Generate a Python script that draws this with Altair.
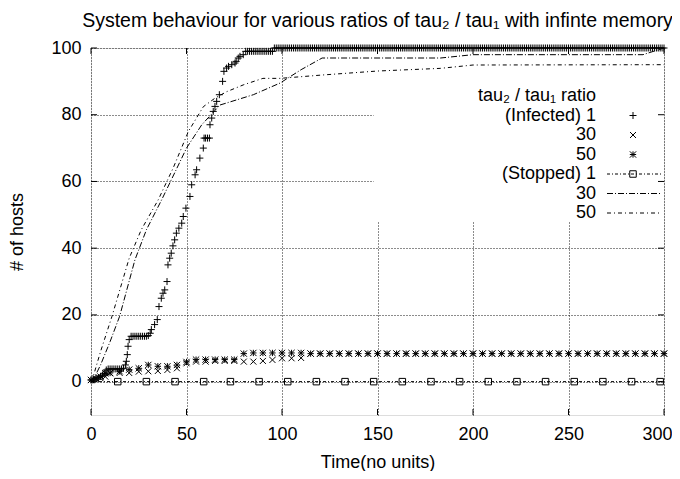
import altair as alt
import pandas as pd

FONT = "Liberation Sans"
FS = 18

# ---------------- data ----------------
# Infected, tau2/tau1 = 1  ('+')
inf1_x = [0, 1, 2, 3, 4, 5, 6, 7, 8, 9, 10, 11, 12, 13, 14, 15, 16, 17, 18, 18.5,
          19, 19.4, 20, 21, 22, 23, 24, 25, 26, 27, 28, 29, 30, 31, 31.6, 33.3, 34.7, 35.6,
          36.8, 37.7, 38.6, 39.8, 40.3, 41.2, 42, 42.9, 43.8, 44.7, 46, 47.5, 48.3, 49.7,
          51.8, 52.7, 54.5, 55.3, 57, 58.8, 59.2, 60, 61, 62, 62.3, 63.2, 64, 64.9, 65.8,
          67.2, 68.9, 69.6, 71, 72, 73.7, 75.4, 76, 77.1, 78, 79.7, 81, 82, 83, 84, 85, 86,
          87, 88, 89, 90, 91, 92, 93, 94, 95]
inf1_y = [0.5, 0.5, 0.6, 1, 1.2, 1.6, 2, 2.5, 3.5, 3.8, 3.8, 3.8, 3.8, 3.8, 3.8, 3.8, 3.8, 4, 5, 6.1,
          8.1, 10.6, 12.6, 13.6, 13.6, 13.6, 13.6, 13.6, 13.6, 13.6, 13.6, 13.6, 13.8, 14.5, 15.6, 17.1, 18.6, 22.5,
          25, 26.5, 27.5, 30, 35, 37, 38.5, 40.7, 42.5, 44.5, 46, 47.5, 49.5, 52,
          55.5, 59, 62, 63.5, 67, 70, 73, 73, 73, 73, 77, 79, 81, 82.5, 84,
          86, 90, 93, 94, 94.5, 95, 95.5, 96, 97, 97.5, 98, 99, 99, 99, 99, 99, 99,
          99, 99, 99, 99, 99, 99, 99, 99, 99]
inf1_top_x = list(range(96, 301))   # sampling times of the saturated part
inf1_top_value = 100

# Infected, tau2/tau1 = 30 ('x') and 50 ('*'), sampled every 5 time units
inf_t = [0, 2.5, 5, 7.5] + list(range(10, 301, 5))
inf30_y = ([0.5, 0.8, 1, 1.5] +
           [2.5, 2.6, 2.6, 3, 3.1, 3.2, 3.5, 4, 5.5, 6, 6, 6.2, 6.2, 6.2, 6, 6, 6.2, 6.5, 7, 7, 7.1] +
           [8.4] * 38)
inf50_y = ([0.5, 1, 1.5, 2.5] +
           [2.6, 3.1, 3.6, 4, 5, 4.6, 4.6, 5, 5.9, 6.6, 6.6, 6.6, 6.6, 6.6, 8.4, 8.6, 8.6, 8.6, 8.6, 8.6, 8.6] +
           [8.4] * 38)

# Stopped, tau2/tau1 = 1 (line with boxes, stays at 0)
stop1_line_x = [0, 300]
stop1_line_y = [0, 0]
stop1_box_x = [14, 29, 44, 59, 73, 88, 103, 118, 133, 148, 163, 178, 193, 208, 223, 238, 253, 268, 283, 298]
stop1_box_y = [0] * len(stop1_box_x)

# Stopped, tau2/tau1 = 30
stop30_x = [0, 2, 5, 10, 15, 23, 29, 37, 45, 50, 58, 67.5, 85, 99, 110, 121, 183, 200, 289, 300]
stop30_y = [0, 1.5, 5, 12, 19.6, 36.5, 45.5, 54.5, 64, 70, 77, 82.9, 86, 89.5, 93.5, 97, 97, 98, 98, 100]

# Stopped, tau2/tau1 = 50
stop50_x = [0, 1.2, 5, 11, 20, 26.3, 35.2, 43, 51, 58.8, 65, 71, 80, 90, 99, 121, 150, 183, 200, 300]
stop50_y = [0, 1.6, 9, 19.6, 37, 45.5, 54.5, 64, 75, 82.4, 85, 86.9, 89, 90.9, 90.9, 91.9, 93.1, 93.9, 94.9, 95]

x_ticks = [0, 50, 100, 150, 200, 250, 300]
y_ticks = [0, 20, 40, 60, 80, 100]

legend_title = "tau\u2082 / tau\u2081 ratio"
legend_labels = ["(Infected) 1", "30", "50", "(Stopped) 1", "30", "50"]

title_text = "System behaviour for various ratios of tau\u2082 / tau\u2081 with infinte memory"

# ---------------- layout ----------------
W, H = 573, 367
PLUS = "M-1,0L1,0M0,-1L0,1"
CROSS = "M-1,-1L1,1M1,-1L-1,1"
STAR = "M-1,0L1,0M0,-1L0,1M-1,-1L1,1M1,-1L-1,1"

xs = alt.Scale(domain=[0, 300], nice=False, zero=False)
ys = alt.Scale(domain=[-10, 100], nice=False, zero=False)

xaxis = alt.Axis(values=x_ticks, ticks=False, domain=False, grid=True, gridDash=[1, 2],
                 gridColor="#000000", gridOpacity=0.9, labelFont=FONT, labelFontSize=FS,
                 labelColor="#000000", labelPadding=10, labelFlush=False,
                 labelAlign=alt.ExprRef("datum.value == 300 ? 'right' : 'center'"),
                 labelOffset=alt.ExprRef("datum.value == 300 ? 8 : 0"),
                 title="Time(no units)", titleFont=FONT, titleFontSize=FS,
                 titleFontWeight="normal", titleColor="#000000", titlePadding=10)
yaxis = alt.Axis(values=y_ticks, ticks=False, domain=False, grid=True, gridDash=[1, 2],
                 gridColor="#000000", gridOpacity=0.9, labelFont=FONT, labelFontSize=FS,
                 labelColor="#000000", labelPadding=10, labelFlush=False,
                 title="# of hosts", titleFont=FONT, titleFontSize=FS,
                 titleFontWeight="normal", titleColor="#000000", titlePadding=24)

X = alt.X("x:Q", scale=xs, axis=xaxis)
Y = alt.Y("y:Q", scale=ys, axis=yaxis)

# key area (gnuplot masks the grid behind the key)
key_df = pd.DataFrame({"x": [148], "x2": [300], "y": [48], "y2": [100]})
key_mask = alt.Chart(key_df).mark_rect(fill="white", stroke=None).encode(
    x=X, x2="x2:Q", y=Y, y2="y2:Q")

df_inf1 = pd.DataFrame({"x": inf1_x + inf1_top_x,
                        "y": inf1_y + [inf1_top_value] * len(inf1_top_x)})
df_inf30 = pd.DataFrame({"x": inf_t, "y": inf30_y})
df_inf50 = pd.DataFrame({"x": inf_t, "y": inf50_y})
df_s1l = pd.DataFrame({"x": stop1_line_x, "y": stop1_line_y})
df_s1b = pd.DataFrame({"x": stop1_box_x, "y": stop1_box_y})
df_s30 = pd.DataFrame({"x": stop30_x, "y": stop30_y})
df_s50 = pd.DataFrame({"x": stop50_x, "y": stop50_y})

pt = dict(filled=False, stroke="black", strokeWidth=1, opacity=1)
inf1 = alt.Chart(df_inf1).mark_point(shape=PLUS, size=49, **pt).encode(x=X, y=Y)
inf30 = alt.Chart(df_inf30).mark_point(shape=CROSS, size=36, **pt).encode(x=X, y=Y)
inf50 = alt.Chart(df_inf50).mark_point(shape=STAR, size=40, **pt).encode(x=X, y=Y)
s1l = alt.Chart(df_s1l).mark_line(color="black", strokeWidth=1, strokeDash=[3, 2, 1, 2]).encode(x=X, y=Y)
s1b = alt.Chart(df_s1b).mark_point(shape="square", size=42, **pt).encode(x=X, y=Y)
s30 = alt.Chart(df_s30).mark_line(color="black", strokeWidth=1, strokeDash=[6, 2, 1, 2]).encode(x=X, y=Y)
s50 = alt.Chart(df_s50).mark_line(color="black", strokeWidth=1, strokeDash=[4, 3, 1, 3]).encode(x=X, y=Y)

# inward ticks on all four sides (gnuplot style)
TL = 6
df_xt = pd.DataFrame({"x": x_ticks})
df_yt = pd.DataFrame({"y": y_ticks})
tk = dict(color="black", strokeWidth=1)
t_bottom = alt.Chart(df_xt).mark_rule(**tk).encode(x=X, y=alt.value(H), y2=alt.value(H - TL))
t_top = alt.Chart(df_xt).mark_rule(**tk).encode(x=X, y=alt.value(0), y2=alt.value(TL))
t_left = alt.Chart(df_yt).mark_rule(**tk).encode(y=Y, x=alt.value(0), x2=alt.value(TL))
t_right = alt.Chart(df_yt).mark_rule(**tk).encode(y=Y, x=alt.value(W - TL), x2=alt.value(W))

# ---------------- key (legend) ----------------
ROW0, DY = 48, 19.5
LAB_X, SYM_X, LINE_X0, LINE_X1 = 505, 542, 516, 570
leg_text_df = pd.DataFrame({"label": [legend_title] + legend_labels,
                            "py": [ROW0 + DY * i for i in range(7)]})
leg_text = alt.Chart(leg_text_df).mark_text(
    align="right", baseline="middle", font=FONT, fontSize=FS, color="black").encode(
    x=alt.value(LAB_X), y=alt.Y("py:Q", scale=None), text="label:N")

leg_sym_df = pd.DataFrame({"shape": [PLUS, CROSS, STAR, "square"],
                           "size": [49, 36, 40, 42],
                           "py": [ROW0 + DY * i for i in range(1, 5)]})
leg_sym = alt.Chart(leg_sym_df).mark_point(**pt).encode(
    x=alt.value(SYM_X), y=alt.Y("py:Q", scale=None),
    shape=alt.Shape("shape:N", scale=None), size=alt.Size("size:Q", scale=None))

dashes = [[3, 2, 1, 2], [6, 2, 1, 2], [4, 3, 1, 3]]
leg_lines = []
for i, d in enumerate(dashes):
    ldf = pd.DataFrame({"py": [ROW0 + DY * (4 + i)]})
    leg_lines.append(alt.Chart(ldf).mark_rule(color="black", strokeWidth=1, strokeDash=d).encode(
        x=alt.value(LINE_X0), x2=alt.value(LINE_X1), y=alt.Y("py:Q", scale=None)))

chart = alt.layer(
    key_mask, s1l, s30, s50, inf1, inf30, inf50, s1b,
    t_bottom, t_top, t_left, t_right,
    leg_text, leg_sym, *leg_lines
).properties(
    width=W, height=H,
    title=alt.TitleParams(title_text, font=FONT, fontSize=19.5, fontWeight="normal",
                          color="black", anchor="middle", offset=8),
    autosize=alt.AutoSizeParams(type="none"),
    padding={"left": 83, "top": 40, "right": 8, "bottom": 56},
).configure_view(stroke="black", strokeWidth=1).configure(background="white")

chart.save("out.html", embed_options={"renderer": "svg", "actions": False})
